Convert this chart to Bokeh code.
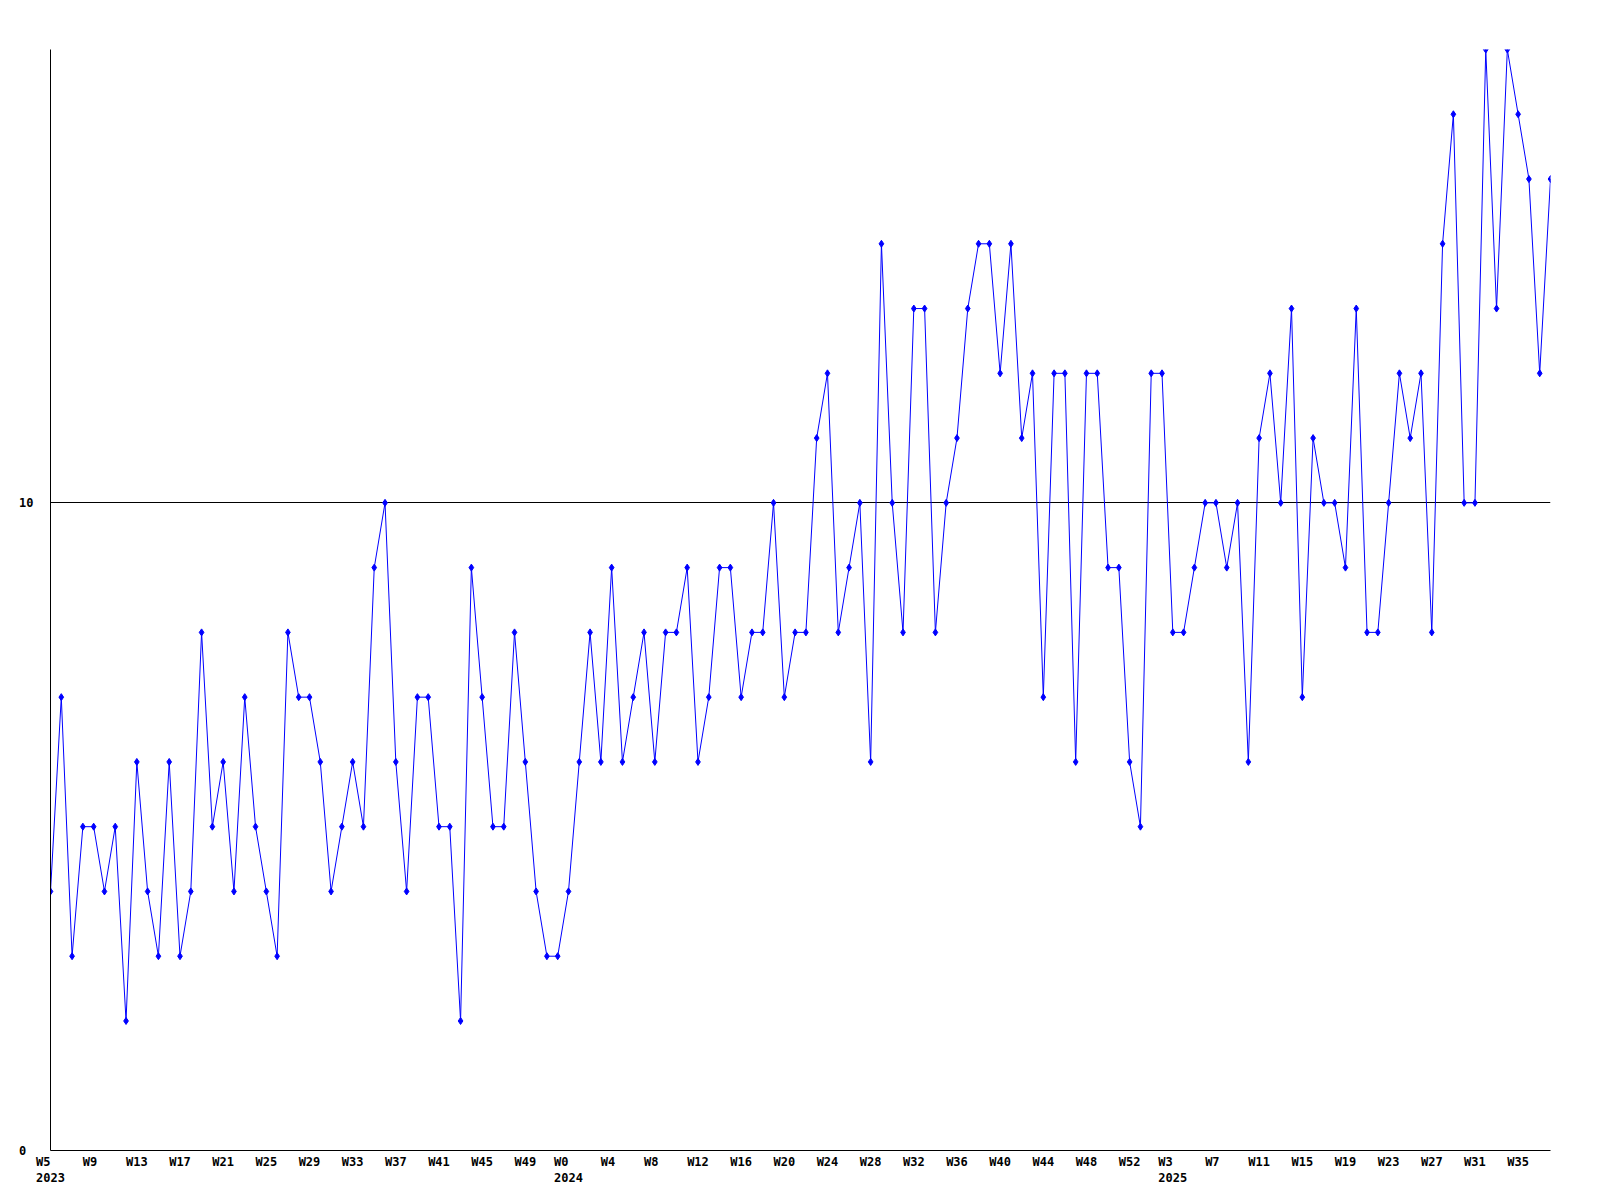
from bokeh.plotting import figure
from bokeh.models import Range1d, FixedTicker
from bokeh.embed import file_html
from bokeh.resources import INLINE

# Weekly values, 2023 W5 .. 2025 W38 (one value per week)
values = [
    4, 7, 3, 5, 5, 4, 5, 2, 6, 4,
    3, 6, 3, 4, 8, 5, 6, 4, 7, 5,
    4, 3, 8, 7, 7, 6, 4, 5, 6, 5,
    9, 10, 6, 4, 7, 7, 5, 5, 2, 9,
    7, 5, 5, 8, 6, 4, 3, 3, 4, 6,
    8, 6, 9, 6, 7, 8, 6, 8, 8, 9,
    6, 7, 9, 9, 7, 8, 8, 10, 7, 8,
    8, 11, 12, 8, 9, 10, 6, 14, 10, 8,
    13, 13, 8, 10, 11, 13, 14, 14, 12, 14,
    11, 12, 7, 12, 12, 6, 12, 12, 9, 9,
    6, 5, 12, 12, 8, 8, 9, 10, 10, 9,
    10, 6, 11, 12, 10, 13, 7, 11, 10, 10,
    9, 13, 8, 8, 10, 12, 11, 12, 8, 14,
    16, 10, 10, 17, 13, 17, 16, 15, 12, 15,
]

# x tick labels (every 4th week); year shown on first tick of each year
tick_weeks = ["W5", "W9", "W13", "W17", "W21", "W25", "W29", "W33", "W37",
              "W41", "W45", "W49", "W0", "W4", "W8", "W12", "W16", "W20",
              "W24", "W28", "W32", "W36", "W40", "W44", "W48", "W52", "W3",
              "W7", "W11", "W15", "W19", "W23", "W27", "W31", "W35"]
tick_years = {"W5": "2023", "W0": "2024", "W3": "2025"}
tick_step = 4

y_ticks = [0, 10]
y_tick_labels = ["0", "10"]

x = list(range(len(values)))
tick_pos = [i * tick_step for i in range(len(tick_weeks))]

NB = "\u00a0"
overrides = {}
for pos, w in zip(tick_pos, tick_weeks):
    if w in tick_years:
        overrides[pos] = w.ljust(4).replace(" ", NB) + "\n" + tick_years[w]
    else:
        overrides[pos] = w.ljust(3).replace(" ", NB)

p = figure(
    frame_width=1500, frame_height=1101,
    x_range=Range1d(0, len(values) - 1), y_range=Range1d(0, 17),
    output_backend="svg", toolbar_location=None,
    min_border_left=50, min_border_top=49, min_border_right=34, min_border_bottom=40,
)
p.outline_line_color = None
p.background_fill_color = "white"
p.border_fill_color = "white"

p.line(x, values, line_color="#0000ff", line_width=1)
p.scatter(x, values, marker="diamond", size=7, fill_color="#0000ff", line_color="#0000ff")

font = "DejaVu Sans Mono"
for ax in (p.xaxis[0], p.yaxis[0]):
    ax.axis_line_color = "black"
    ax.axis_line_width = 1
    ax.major_tick_line_color = None
    ax.minor_tick_line_color = None
    ax.major_label_text_font = font
    ax.major_label_text_font_style = "bold"
    ax.major_label_text_font_size = "12px"
    ax.major_label_text_color = "black"

p.xaxis.ticker = FixedTicker(ticks=tick_pos)
p.xaxis.major_label_overrides = overrides
p.xaxis.major_label_standoff = -2

p.yaxis.ticker = FixedTicker(ticks=y_ticks)
p.yaxis.major_label_overrides = {t: (s + NB if len(s) == 1 else s)
                                 for t, s in zip(y_ticks, y_tick_labels)}
p.yaxis.major_label_standoff = 11

p.xgrid.visible = False
p.ygrid.ticker = FixedTicker(ticks=[10])
p.ygrid.grid_line_color = "black"
p.ygrid.grid_line_alpha = 1.0
p.ygrid.grid_line_width = 1

open("out.html", "w").write(file_html(p, INLINE))
